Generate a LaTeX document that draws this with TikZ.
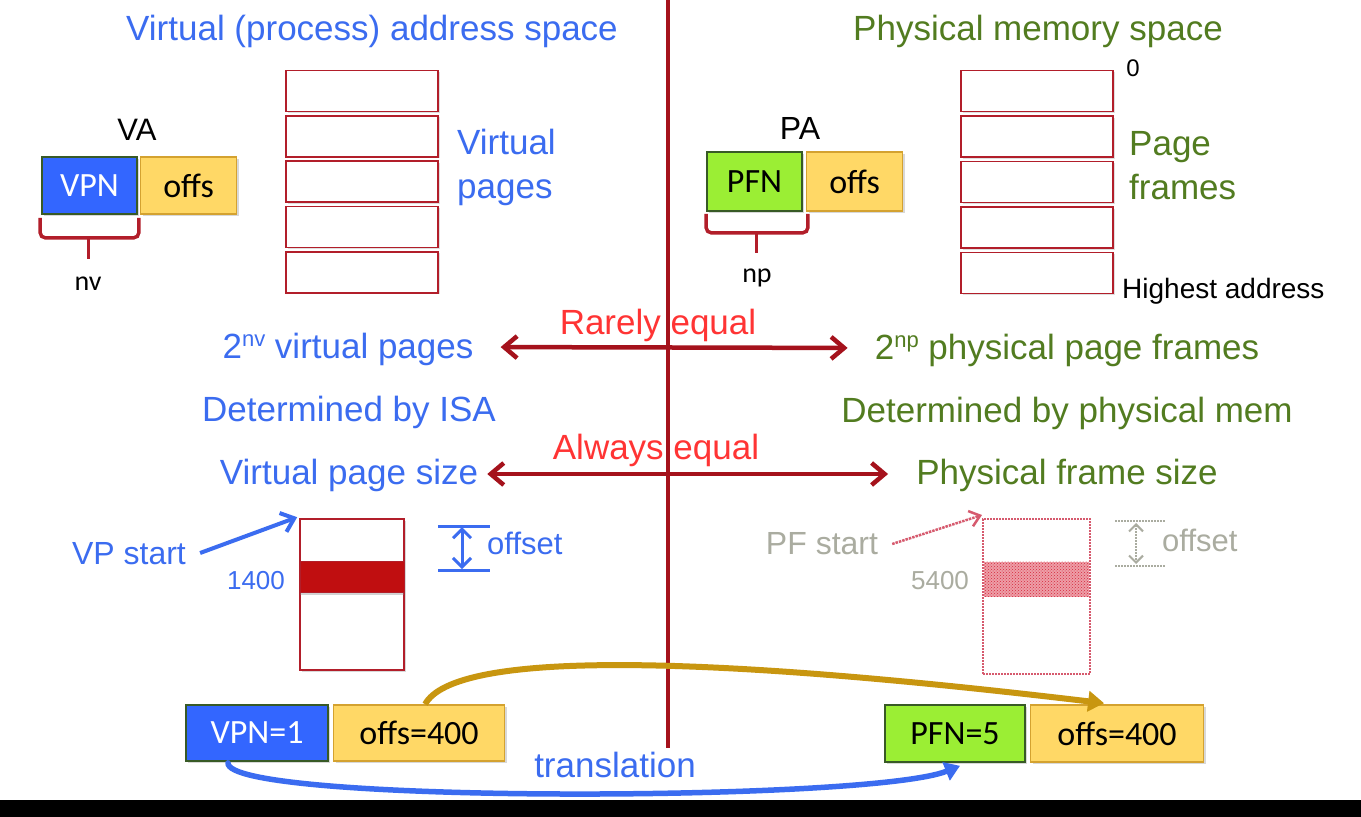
\documentclass[tikz,border=0pt]{standalone}
\usepackage{fontspec}
\setmainfont{Liberation Sans}
\newfontfamily\calfont{Carlito}
\usetikzlibrary{arrows.meta,shadows,patterns,calc}

\definecolor{vblue}{RGB}{59,108,240}
\definecolor{pgreen}{RGB}{82,124,32}
\definecolor{eqred}{RGB}{255,52,52}
\definecolor{divred}{RGB}{165,18,28}
\definecolor{cellred}{RGB}{178,30,42}
\definecolor{vpnblue}{RGB}{51,102,255}
\definecolor{pfngreen}{RGB}{155,238,52}
\definecolor{offyellow}{RGB}{255,216,102}
\definecolor{offedge}{RGB}{212,162,48}
\definecolor{fieldedge}{RGB}{56,90,38}
\definecolor{bandred}{RGB}{192,14,16}
\definecolor{gold}{RGB}{200,150,16}
\definecolor{fadetext}{RGB}{170,172,160}
\definecolor{fadered}{RGB}{214,90,110}
\definecolor{fadeband}{RGB}{215,40,60}

\begin{document}
\begin{tikzpicture}[x=1pt,y=-1pt,
  bigfont/.style={font=\fontsize{35}{44}\selectfont, inner sep=0pt},
  big/.style={bigfont, text height=25pt, text depth=0pt},
  vtext/.style={big, text=vblue},
  ptext/.style={big, text=pgreen},
  eqtext/.style={big, text=eqred},
  plain/.style={inner sep=0pt, text=black},
  cell/.style={draw=cellred, line width=1.6pt, fill=white, minimum width=152pt,
    minimum height=41pt, inner sep=0pt,
    drop shadow={shadow xshift=1.5pt, shadow yshift=-1.5pt, opacity=0.25}},
  field/.style={line width=1.6pt, minimum height=57pt, inner sep=0pt,
    font=\calfont\fontsize{34}{40}\selectfont,
    drop shadow={shadow xshift=2pt, shadow yshift=-2pt, opacity=0.3}},
  vpnfield/.style={field, fill=vpnblue, draw=fieldedge, text=white},
  pfnfield/.style={field, fill=pfngreen, draw=fieldedge, text=black},
  offfield/.style={field, fill=offyellow, draw=offedge, text=black},
  bracket/.style={draw=cellred, line width=3.5pt, rounded corners=5pt},
  equalarrow/.style={draw=divred, line width=4.5pt,
    arrows={Straight Barb[length=13pt,width=22pt]-Straight Barb[length=13pt,width=22pt]}},
  pointer/.style={draw=vblue, line width=4pt, arrows={-Straight Barb[length=12pt,width=20pt]}},
  gap/.style={draw=vblue, line width=3pt,
    arrows={Straight Barb[length=9pt,width=18pt]-Straight Barb[length=9pt,width=18pt]}},
  tick/.style={draw=vblue, line width=3pt},
  fadetick/.style={draw=fadetext, line width=2pt, densely dotted},
]
\useasboundingbox (0,0) rectangle (1361,817);
\fill[white] (0,0) rectangle (1361,817);
\fill[black] (0,800) rectangle (1361,817);

% headings
\node[vtext] (vhead) at (372,28) {Virtual (process) address space};
\node[ptext] (phead) at (1038,28) {Physical memory space};

% virtual page stack
\foreach \i in {1,...,5}
  \node[cell] (vp\i) at (362,{91+45.3*(\i-1)}) {};
\node[bigfont, text=vblue, anchor=west, align=left] (vplabel) at (457,167) {Virtual\\pages};

% physical frame stack
\foreach \i in {1,...,5}
  \node[cell] (pf\i) at (1037,{91+45.5*(\i-1)}) {};
\node[bigfont, text=pgreen, anchor=west, align=left] (pflabel) at (1129,166) {Page\\frames};
\node[plain, font=\fontsize{24}{28}\selectfont] (zero) at (1133,68) {0};
\node[plain, anchor=west, font=\fontsize{28}{30}\selectfont] (high) at (1122,291) {Highest address};

% virtual address fields
\node[plain, font=\fontsize{31}{36}\selectfont] (va) at (137,130) {VA};
\node[vpnfield, minimum width=95pt] (vpn) at (89.5,185.5) {VPN};
\node[offfield, minimum width=96pt, anchor=west] (voff) at ([xshift=2pt]vpn.east) {offs};
\draw[bracket] ($(vpn.south west)+(-1,3)$) -- ++(0,20) -- ($(vpn.south east)+(1,23)$) -- ($(vpn.south east)+(1,3)$);
\draw[bracket] ($(vpn.south)+(-1,23)$) -- ++(0,21);
\node[plain, font=\calfont\fontsize{28}{32}\selectfont] (nv) at (88,284) {nv};

% physical address fields
\node[plain, font=\fontsize{32}{36}\selectfont] (pa) at (800,128) {PA};
\node[pfnfield, minimum width=95pt, minimum height=59pt] (pfn) at (754.5,181.5) {PFN};
\node[offfield, minimum width=96pt, minimum height=59pt, anchor=west] (poff) at ([xshift=3pt]pfn.east) {offs};
\draw[bracket] ($(pfn.south west)+(0,2)$) -- ++(0,19) -- ($(pfn.south east)+(5,21)$) -- ($(pfn.south east)+(5,2)$);
\draw[bracket] ($(pfn.south)+(2,21)$) -- ++(0,20);
\node[plain, font=\calfont\fontsize{28}{32}\selectfont] (np) at (757,278) {np};

% comparisons
\node[vtext] (nvpages) at (348,346) {2\raisebox{12pt}{\fontsize{22}{22}\selectfont nv} virtual pages};
\node[ptext] (nppages) at (1067,347) {2\raisebox{12pt}{\fontsize{22}{22}\selectfont np} physical page frames};
\node[eqtext] (rarely) at (658,322) {Rarely equal};
\draw[equalarrow, shorten <=27pt, shorten >=27pt] ([yshift=-1pt]nvpages.east) -- ([yshift=-1pt]nppages.west);

\node[vtext] (isa) at (349,409) {Determined by ISA};
\node[ptext] (pmem) at (1067,410) {Determined by physical mem};

\node[vtext] (vpsize) at (349,472) {Virtual page size};
\node[ptext] (pfsize) at (1067,472) {Physical frame size};
\node[eqtext] (always) at (656,447) {Always equal};
\draw[equalarrow, shorten <=9pt, shorten >=28pt] ([yshift=-2pt]vpsize.east) -- ([yshift=-2pt]pfsize.west);

% virtual page detail
\node[draw=cellred, line width=1.6pt, fill=white, minimum width=104pt, minimum height=151pt, inner sep=0pt,
  drop shadow={shadow xshift=2pt, shadow yshift=-2pt, opacity=0.3}] (vpage) at (352,594.5) {};
\node[fill=bandred, draw=cellred, line width=1pt, minimum width=104pt, minimum height=31pt, inner sep=0pt,
  drop shadow={shadow xshift=0pt, shadow yshift=-3pt, opacity=0.35}] (vband) at (352,576.5) {};
\node[vtext, font=\fontsize{26}{30}\selectfont, text height=19pt] (v1400) at (256,580) {1400};
\node[vtext, font=\fontsize{32}{36}\selectfont, text height=23pt] (vpstart) at (129,553) {VP start};
\draw[pointer] ([xshift=14pt]vpstart.east) -- ([shift={(-2pt,1pt)}]vpage.north west);
\coordinate (vgtop) at (438,526);
\coordinate (vgbot) at (438,570);
\draw[tick] (vgtop) -- ++(52,0);
\draw[tick] (vgbot) -- ++(52,0);
\draw[gap] ($(vgtop)+(24,1)$) -- ($(vgbot)+(24,-1)$);
\node[vtext, font=\fontsize{31}{36}\selectfont, text height=22pt, anchor=west] (voffset) at (487,543) {offset};

% physical frame detail (faded)
\node[draw=fadered, line width=2pt, densely dotted, minimum width=107pt, minimum height=155pt, inner sep=0pt] (pframe) at (1036.5,596.5) {};
\node[fill=fadeband!45, minimum width=105pt, minimum height=35pt, inner sep=0pt] (pbandbg) at (1036.5,579) {};
\node[pattern=crosshatch dots, pattern color=fadeband, minimum width=105pt, minimum height=35pt, inner sep=0pt] (pband) at (1036.5,579) {};
\node[plain, text=fadetext, font=\fontsize{26}{30}\selectfont] (p5400) at (940,581) {5400};
\node[plain, text=fadetext, font=\fontsize{32}{36}\selectfont] (pfstart) at (822,544) {PF start};
\draw[draw=fadered, line width=2.5pt, densely dotted, arrows={-Straight Barb[length=10pt,width=16pt]}]
  ([xshift=14pt]pfstart.east) -- ([shift={(0pt,3pt)}]pframe.north west);
\coordinate (pgtop) at (1115,521);
\coordinate (pgbot) at (1115,566);
\draw[fadetick] (pgtop) -- ++(50,0);
\draw[fadetick] (pgbot) -- ++(50,0);
\draw[fadetick, arrows={Straight Barb[length=7pt,width=14pt]-Straight Barb[length=7pt,width=14pt]}]
  ($(pgtop)+(21,2)$) -- ($(pgbot)+(21,-2)$);
\node[plain, text=fadetext, font=\fontsize{31}{36}\selectfont, anchor=west] (poffset) at (1162,540) {offset};

% dividing line
\coordinate (divtop) at (668,0);
\coordinate (divbot) at (668,748);
\draw[divred, line width=3.5pt] (divtop) -- (divbot);

% concrete addresses
\node[vpnfield, minimum width=142pt, minimum height=56pt] (vpnA) at (257,733) {VPN=1};
\node[offfield, minimum width=171pt, minimum height=56pt, anchor=west] (voffA) at ([xshift=4pt]vpnA.east) {offs=400};
\node[pfnfield, minimum width=140pt] (pfnA) at (955,733.5) {PFN=5};
\node[offfield, minimum width=173pt, anchor=west] (poffA) at ([xshift=4pt]pfnA.east) {offs=400};

% offset is copied unchanged
\draw[gold, line width=6pt, arrows={-Triangle[length=16pt,width=20pt]}]
  ($(voffA.north)+(6,0)$) .. controls (455,650) and (700,655) .. ($(poffA.north)+(-13,-1)$);

% page number is translated
\draw[vblue, line width=5.5pt, line cap=round, arrows={-Triangle[length=15pt,width=19pt]}]
  ($(vpnA.south)+(-29,1)$) .. controls (225,804) and (870,802) .. ($(pfnA.south)+(5,3)$);
\node[vtext] (transl) at (615,765) {translation};
\end{tikzpicture}
\end{document}
